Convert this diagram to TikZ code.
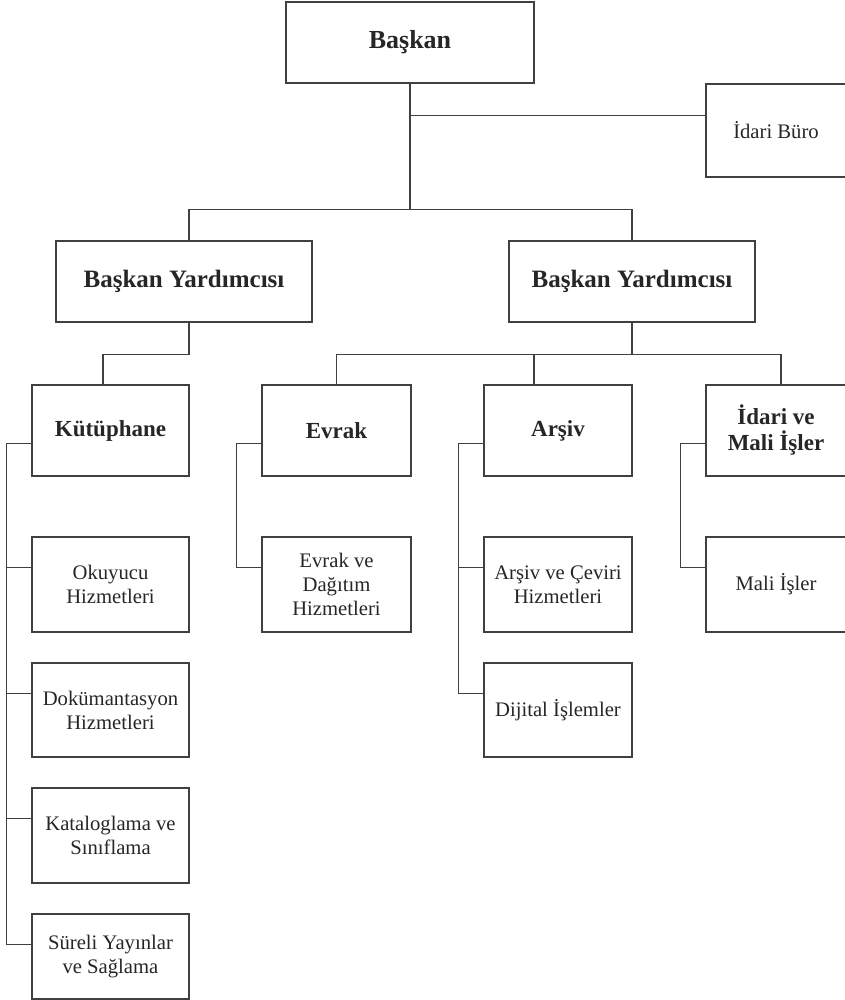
\documentclass[tikz,border=0pt]{standalone}
\usepackage{fontspec}
\setmainfont{Liberation Serif}
\usetikzlibrary{positioning,calc}

\begin{document}
\begin{tikzpicture}[x=0.75pt, y=-0.75pt,
		box/.style={draw=black!75, line width=1.2pt, inner sep=0pt, align=center, text=black!85},
		topbox/.style={box, font=\bfseries\fontsize{19.5}{22}\selectfont},
		headbox/.style={box, font=\bfseries\fontsize{18.75}{22}\selectfont},
		unitbox/.style={box, font=\bfseries\fontsize{17.25}{19.5}\selectfont},
		subbox/.style={box, font=\fontsize{15.5}{18}\selectfont},
		link/.style={draw=black!75, line width=0.9pt}]
	\useasboundingbox (0,0) rectangle (844,1000);

	% Başkan and İdari Büro
	\node[topbox, minimum width=186pt, minimum height=60.75pt] (baskan) at (410, 42.5) {Başkan};
	\node[subbox, minimum width=105pt, minimum height=69.75pt] (idari) at (776, 130.5) {İdari Büro};

	% Başkan Yardımcıları
	\node[headbox, minimum width=192pt, minimum height=60.75pt] (bya) at (184, 281.5) {Başkan Yardımcısı};
	\node[headbox, minimum width=184.5pt, minimum height=60.75pt] (byb) at (632, 281.5) {Başkan Yardımcısı};

	% Units
	\node[unitbox, minimum width=117.75pt, minimum height=68.25pt] (kut) at (110.5, 430.5) {Kütüphane};
	\node[unitbox, minimum width=111.75pt, minimum height=68.25pt] (evrak) at (336.5, 430.5) {Evrak};
	\node[unitbox, minimum width=111pt, minimum height=68.25pt] (arsiv) at (558, 430.5) {Arşiv};
	\node[unitbox, minimum width=105pt, minimum height=68.25pt] (imi) at (776, 430.5) {İdari ve\\Mali İşler};

	% Kütüphane sub-units
	\node[subbox, minimum width=117.75pt, minimum height=71.25pt] (oku) at (110.5, 584.5) {Okuyucu\\Hizmetleri};
	\node[subbox, minimum width=117.75pt, minimum height=70.5pt] (dok) at (110.5, 710) {Dokümantasyon\\Hizmetleri};
	\node[subbox, minimum width=117.75pt, minimum height=71.25pt] (kat) at (110.5, 835.5) {Kataloglama ve\\Sınıflama};
	\node[subbox, minimum width=117.75pt, minimum height=63.75pt] (sur) at (110.5, 956.5) {Süreli Yayınlar\\ve Sağlama};

	% Other sub-units
	\node[subbox, minimum width=111.75pt, minimum height=71.25pt] (evd) at (336.5, 584.5) {Evrak ve\\Dağıtım\\Hizmetleri};
	\node[subbox, minimum width=111pt, minimum height=71.25pt] (acv) at (558, 584.5) {Arşiv ve Çeviri\\Hizmetleri};
	\node[subbox, minimum width=111pt, minimum height=70.5pt] (dij) at (558, 710) {Dijital İşlemler};
	\node[subbox, minimum width=105pt, minimum height=71.25pt] (mali) at (776, 584.5) {Mali İşler};

	% Top connectors
	\draw[link] (baskan.south) -- ++(0,126) coordinate (mid);
	\draw[link] (mid) -| ([xshift=3.75pt]bya.north);
	\draw[link] (mid) -| (byb.north);
	\draw[link] ([yshift=11.25pt]idari.west) -- ([yshift=11.25pt]idari.west -| baskan.south);

	% Yardımcı to units
	\draw[link] ([xshift=3.75pt]bya.south) -- ++(0,32) -| ([xshift=-5.625pt]kut.north);
	\draw[link] (byb.south) -- ++(0,32) coordinate (rj);
	\draw[link] (evrak.north) |- ([xshift=3.75pt]imi.north |- rj) -- ([xshift=3.75pt]imi.north);
	\draw[link] ([xshift=-18pt]arsiv.north) -- ([xshift=-18pt]arsiv.north |- rj);

	% Side brackets
	\draw[link] ([yshift=-44.25pt]kut.north west) -- ++(-25,0) |- ([yshift=-23.25pt]sur.north west);
	\foreach \b in {oku,dok,kat}
		\draw[link] ([yshift=-23.25pt]\b.north west) -- ++(-25,0);
	\draw[link] ([yshift=-44.25pt]evrak.north west) -- ++(-25,0) |- ([yshift=-23.25pt]evd.north west);
	\draw[link] ([yshift=-44.25pt]arsiv.north west) -- ++(-25,0) |- ([yshift=-23.25pt]dij.north west);
	\draw[link] ([yshift=-23.25pt]acv.north west) -- ++(-25,0);
	\draw[link] ([yshift=-44.25pt]imi.north west) -- ++(-25,0) |- ([yshift=-23.25pt]mali.north west);
\end{tikzpicture}
\end{document}
